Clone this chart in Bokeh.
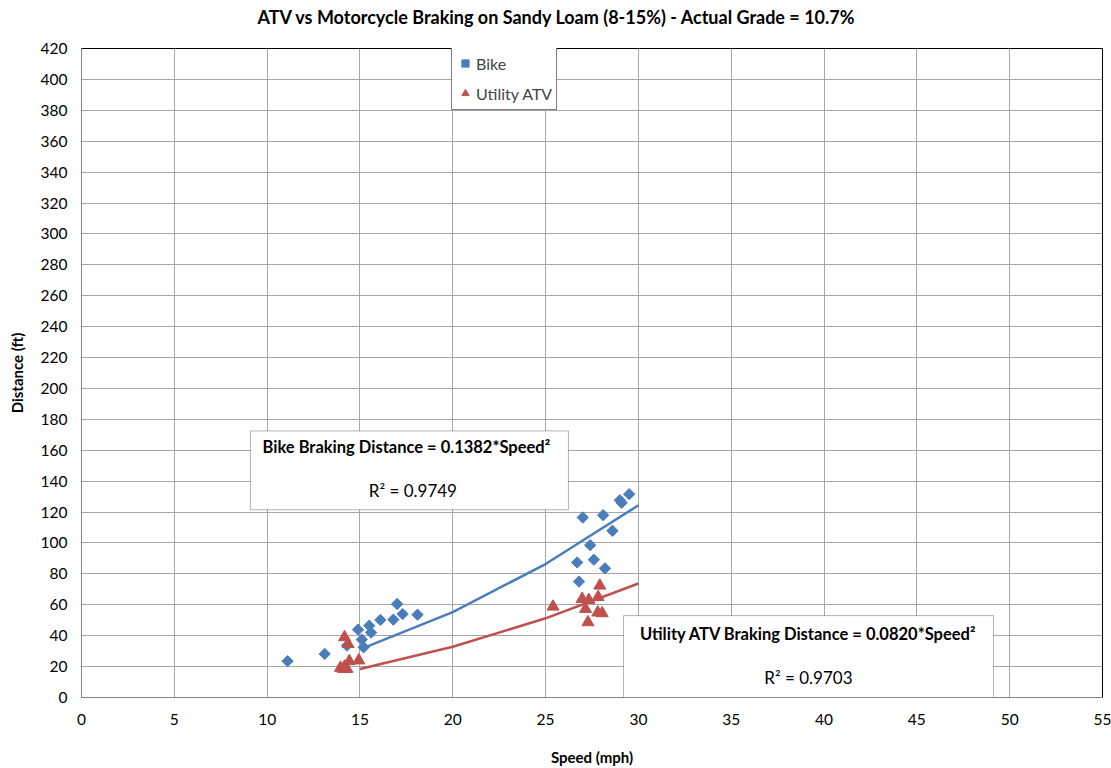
import math

from bokeh.embed import file_html
from bokeh.models import (BoxAnnotation, FixedTicker, Label, Legend, LegendItem,
                          Range1d, Title)
from bokeh.plotting import figure
from bokeh.resources import INLINE

# Measured braking runs
bike_speed = [11.1, 13.1, 14.3, 14.9, 15.1, 15.2, 15.5, 15.6, 16.1, 16.8, 17.0, 17.3,
              18.1, 26.7, 26.8, 27.0, 27.4, 27.6, 28.1, 28.2, 28.6, 29.0, 29.1, 29.5]
bike_dist = [23.5, 28.2, 33.6, 43.9, 37.5, 32.5, 46.5, 42.0, 50.2, 50.4, 60.5, 54.0,
             53.6, 87.4, 75.0, 116.5, 98.6, 89.2, 118.0, 83.6, 107.9, 127.7, 126.0, 131.6]

atv_speed = [13.95, 14.1, 14.17, 14.3, 14.43, 14.94, 14.17, 14.36, 25.4, 26.97, 27.15,
             27.28, 27.33, 27.81, 27.83, 27.92, 28.05]
atv_dist = [19.2, 18.5, 20.0, 18.5, 23.5, 24.0, 39.0, 34.6, 58.8, 63.8, 57.3,
            48.7, 63.1, 55.0, 65.0, 72.4, 54.5]

# Quadratic fits: distance = k * speed^2
fit_speed = [15, 20, 25, 30]
bike_k, bike_r2 = 0.1382, 0.9749
atv_k, atv_r2 = 0.0820, 0.9703
bike_fit = [bike_k * s ** 2 for s in fit_speed]
atv_fit = [atv_k * s ** 2 for s in fit_speed]

x_ticks = list(range(0, 56, 5))
y_ticks = list(range(0, 421, 20))

TITLE = "ATV vs Motorcycle Braking on Sandy Loam (8-15%) - Actual Grade = 10.7%"
BLUE = "#4a7ebb"
RED = "#c0504d"
FONT = "Lato"

p = figure(width=1111, height=768, output_backend="svg", toolbar_location=None,
           x_range=Range1d(0, 55), y_range=Range1d(0, 420),
           min_border_left=81, min_border_right=9, min_border_top=47,
           min_border_bottom=71, title=TITLE)

# Title centred over the whole canvas rather than the frame
p.title.align = "left"
p.title.offset = 176
p.title.standoff = 10
p.title.vertical_align = "top"
p.title.text_font = FONT
p.title.text_font_size = "18px"
p.title.text_font_style = "bold"
p.title.text_color = "#000000"

# Blank strip between the title and the plot frame
p.add_layout(Title(text=" ", text_font_size="11px", standoff=0), "above")

p.background_fill_color = "white"
p.border_fill_color = "white"
p.outline_line_color = "#000000"
p.outline_line_width = 1

for ax in (p.xaxis[0], p.yaxis[0]):
    ax.major_tick_line_color = None
    ax.minor_tick_line_color = None
    ax.major_tick_out = 0
    ax.major_tick_in = 0
    ax.minor_tick_out = 0
    ax.minor_tick_in = 0
    ax.axis_line_color = "#868686"
    ax.major_label_text_font = FONT
    ax.major_label_text_font_size = "15.5px"
    ax.major_label_text_color = "#000000"
    ax.axis_label_text_font = FONT
    ax.axis_label_text_font_size = "15px"
    ax.axis_label_text_font_style = "bold"
    ax.axis_label_text_color = "#000000"

p.xaxis.ticker = FixedTicker(ticks=x_ticks)
p.yaxis.ticker = FixedTicker(ticks=y_ticks)
p.xaxis.axis_label = "Speed (mph)"
p.yaxis.axis_label = "Distance (ft)"
p.xaxis.major_label_standoff = 16
p.xaxis.axis_label_standoff = 20
p.yaxis.major_label_standoff = 14
p.yaxis.axis_label_standoff = 12

p.xgrid.grid_line_color = "#a6a6a6"
p.ygrid.grid_line_color = "#a6a6a6"
p.xgrid.ticker = FixedTicker(ticks=x_ticks)
p.ygrid.ticker = FixedTicker(ticks=y_ticks)

# Fitted curves
p.line(fit_speed, bike_fit, line_color=BLUE, line_width=2.5)
p.line(fit_speed, atv_fit, line_color=RED, line_width=2.5)

# Data points
r_bike = p.scatter(bike_speed, bike_dist, marker="square", angle=math.pi / 4,
                   size=8, fill_color=BLUE, line_color=BLUE)
r_atv = p.scatter(atv_speed, atv_dist, marker="triangle", size=12,
                  fill_color=RED, line_color=RED)

legend = Legend(items=[LegendItem(label="Bike", renderers=[r_bike]),
                       LegendItem(label="Utility ATV", renderers=[r_atv])],
                location=(370, 587), border_line_color="#000000",
                border_line_width=1, background_fill_alpha=1.0,
                label_text_font=FONT, label_text_font_size="16px",
                glyph_width=18, glyph_height=24, label_standoff=2,
                spacing=6, padding=4, margin=0)
p.add_layout(legend, "center")

# Equation boxes
bike_box = BoxAnnotation(left=9.10, right=26.23, bottom=121.5, top=172.5,
                         fill_color="white", fill_alpha=1.0,
                         line_color="#000000", line_width=1)
atv_box = BoxAnnotation(left=29.20, right=49.13, bottom=0, top=53.0,
                        fill_color="white", fill_alpha=1.0,
                        line_color="#000000", line_width=1)
p.add_layout(bike_box)
p.add_layout(atv_box)

def add_text(x, y, text, size, bold=False):
    p.add_layout(Label(x=x, y=y, text=text, text_align="center",
                       text_baseline="middle", text_font=FONT,
                       text_font_size=size,
                       text_font_style="bold" if bold else "normal",
                       text_color="#000000"))

add_text(17.5, 162.2, f"Bike Braking Distance = {bike_k:.4f}*Speed\u00b2", "16.5px", bold=True)
add_text(17.85, 133.8, f"R\u00b2 = {bike_r2:.4f}", "17px")
add_text(39.16, 41.4, f"Utility ATV Braking Distance = {atv_k:.4f}*Speed\u00b2", "16.5px", bold=True)
add_text(39.16, 12.9, f"R\u00b2 = {atv_r2:.4f}", "17px")

open("out.html", "w").write(file_html(p, INLINE))
